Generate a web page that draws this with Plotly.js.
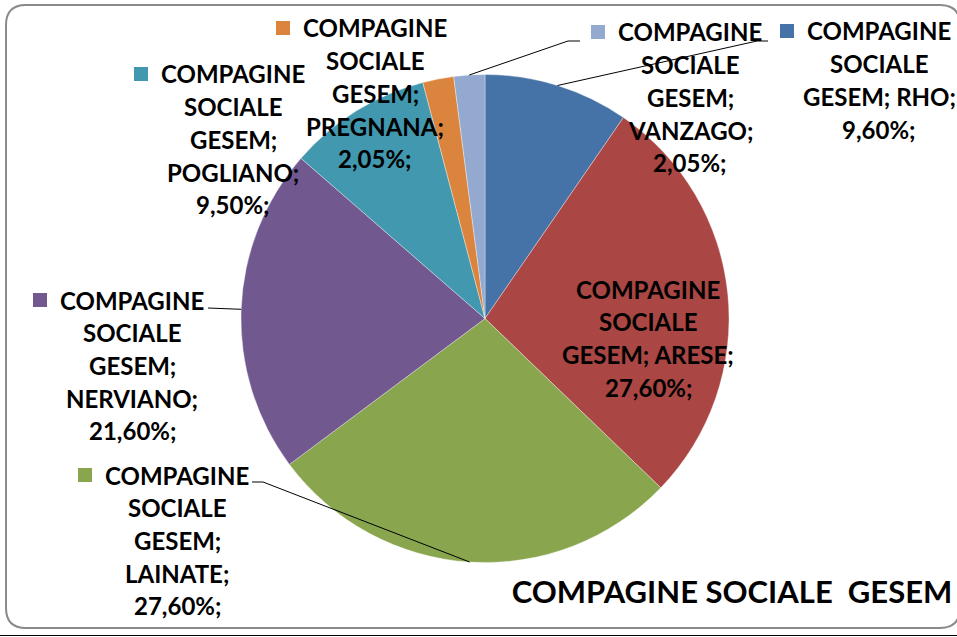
<!DOCTYPE html>
<html>
<head>
<meta charset="utf-8">
<script src="https://cdn.plot.ly/plotly-3.0.1.min.js"></script>
<style>html,body{margin:0;padding:0;background:#fff;}#chart{width:957px;height:637px;}</style>
</head>
<body>
<div id="chart"></div>
<script>
// ---- data ----
const seriesName = "COMPAGINE SOCIALE GESEM";
const categories = ["RHO", "ARESE", "LAINATE", "NERVIANO", "POGLIANO", "PREGNANA", "VANZAGO"];
const percentages = [9.60, 27.60, 27.60, 21.60, 9.50, 2.05, 2.05];
const chartTitle = "COMPAGINE SOCIALE\u00a0\u00a0GESEM";

// ---- style / layout ----
const colors = ["#4572A7", "#AA4643", "#89A54E", "#71588F", "#4198AF", "#DB843D", "#93A9CF"];
const W = 957, H = 637;
const CX = 485, CY = 318.5, R = 244;
const LINE = 32.7;
// label block centre x and first-line y (px); whether category joins the "GESEM;" line
const labelX = [879, 648, 177, 132, 233, 375, 690];
const firstLineY = [32, 290, 476, 301, 75, 29, 33];
const joinLine = [true, true, false, false, false, false, false];
const showKey = [true, false, true, true, true, true, true];
// leader elbows (px) : [startX, startY, elbowX] or null
const leaders = [[768, 41, 757], null, [252, 482, 263], [208, 308, 208], null, null, [580, 41, 568]];

const X = px => px / W;
const Y = py => 1 - py / H;
const fmt = v => v.toFixed(2).replace('.', ',') + '%;';
const labelFont = {family: 'Lato, "Open Sans", sans-serif', size: 24, weight: 700, color: '#000'};

const total = percentages.reduce((a, b) => a + b, 0);
const annotations = [];
const shapes = [];

let cum = 0;
percentages.forEach((v, i) => {
  const mid = (cum + v / 2) / total;
  cum += v;
  const th = 2 * Math.PI * mid;
  const ex = CX + R * Math.sin(th), ey = CY - R * Math.cos(th);
  const parts = seriesName.split(' ');
  let lines;
  if (joinLine[i]) lines = [parts[0], parts[1], parts[2] + '; ' + categories[i] + ';', fmt(v)];
  else lines = [parts[0], parts[1], parts[2] + ';', categories[i] + ';', fmt(v)];
  const lx = labelX[i], fy = firstLineY[i];
  lines.forEach((t, k) => {
    annotations.push({
      text: t, x: X(lx), y: Y(fy + k * LINE - 1), xref: 'paper', yref: 'paper',
      xanchor: 'center', yanchor: 'middle', showarrow: false, font: labelFont
    });
  });
  if (showKey[i]) {
    shapes.push({type: 'rect', xref: 'paper', yref: 'paper',
      x0: X(lx - 99), x1: X(lx - 85), y0: Y(fy - 8), y1: Y(fy + 6),
      fillcolor: colors[i], line: {width: 0}});
  }
  const L = leaders[i];
  if (L) {
    shapes.push({type: 'path', xref: 'paper', yref: 'paper',
      path: `M ${X(L[0])} ${Y(L[1])} L ${X(L[2])} ${Y(L[1])} L ${X(ex)} ${Y(ey)}`,
      line: {color: '#000', width: 1}});
  }
});

// rounded chart border
const bl = 6, bt = 5, br = 960, bb = 628, rr = 20;
shapes.push({type: 'path', xref: 'paper', yref: 'paper', layer: 'below',
  path: `M ${X(bl + rr)} ${Y(bt)} L ${X(br - rr)} ${Y(bt)} Q ${X(br)} ${Y(bt)} ${X(br)} ${Y(bt + rr)} ` +
        `L ${X(br)} ${Y(bb - rr)} Q ${X(br)} ${Y(bb)} ${X(br - rr)} ${Y(bb)} ` +
        `L ${X(bl + rr)} ${Y(bb)} Q ${X(bl)} ${Y(bb)} ${X(bl)} ${Y(bb - rr)} ` +
        `L ${X(bl)} ${Y(bt + rr)} Q ${X(bl)} ${Y(bt)} ${X(bl + rr)} ${Y(bt)} Z`,
  line: {color: '#8a8a8a', width: 2}});
shapes.push({type: 'line', xref: 'paper', yref: 'paper', x0: 0, x1: 1, y0: Y(635.5), y1: Y(635.5),
  line: {color: '#000', width: 1}});

const trace = {
  type: 'pie', labels: categories, values: percentages, sort: false,
  direction: 'clockwise', rotation: 0, textinfo: 'none', hoverinfo: 'none',
  marker: {colors: colors, line: {color: 'rgba(255,255,255,0.35)', width: 1}},
  domain: {x: [X(CX - R), X(CX + R)], y: [Y(CY + R), Y(CY - R)]},
  showlegend: false
};

const layout = {
  width: W, height: H, margin: {l: 0, r: 0, t: 0, b: 0},
  paper_bgcolor: '#fff', plot_bgcolor: '#fff', showlegend: false,
  title: {text: chartTitle, x: X(732), xanchor: 'center', y: Y(592), yanchor: 'middle',
    xref: 'paper', yref: 'paper',
    font: {family: 'Lato, "Open Sans", sans-serif', size: 31, weight: 700, color: '#000'}},
  annotations: annotations, shapes: shapes
};

Plotly.newPlot('chart', [trace], layout, {displayModeBar: false, staticPlot: true});
</script>
</body>
</html>
